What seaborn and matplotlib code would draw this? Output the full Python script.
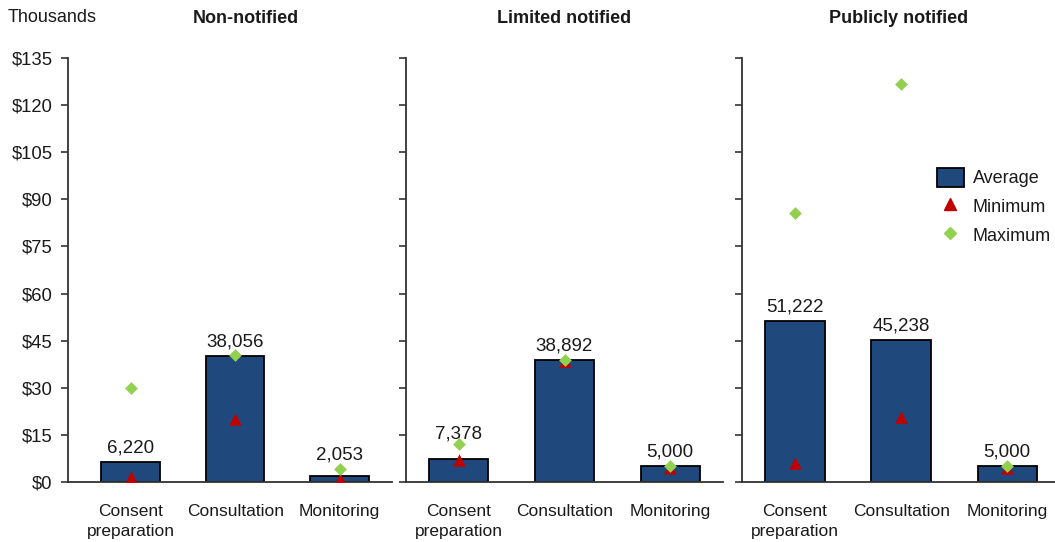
import numpy as np
import pandas as pd
import matplotlib
matplotlib.use("Agg")
import matplotlib.pyplot as plt
from matplotlib.patches import Patch
from matplotlib.lines import Line2D
import seaborn as sns

# ---------------- data (thousands of $) ----------------
categories = ["Consent\npreparation", "Consultation", "Monitoring"]
panel_titles = ["Non-notified", "Limited notified", "Publicly notified"]

avg_non = [6.22, 40.0, 2.05]
min_non = [1.5, 20.0, 1.0]
max_non = [30.0, 40.3, 4.1]
lbl_non = ["6,220", "38,056", "2,053"]

avg_lim = [7.378, 38.892, 5.0]
min_lim = [7.0, 38.5, 4.6]
max_lim = [12.0, 38.9, 5.2]
lbl_lim = ["7,378", "38,892", "5,000"]

avg_pub = [51.222, 45.238, 5.0]
min_pub = [6.0, 20.8, 4.6]
max_pub = [85.7, 126.8, 5.2]
lbl_pub = ["51,222", "45,238", "5,000"]

y_ticks = [0, 15, 30, 45, 60, 75, 90, 105, 120, 135]
y_ticklabels = ["$0", "$15", "$30", "$45", "$60", "$75", "$90", "$105", "$120", "$135"]

# label offsets above bar tops (points) - layout only
label_offsets = [[4, 4, 8.5], [12, 4, 4], [4, 4, 4]]

# ---------------- style ----------------
sns.set_theme(style="white")
plt.rcParams["font.family"] = ["Liberation Sans", "DejaVu Sans"]
TXT = "#1a1a1a"
NAVY = "#1F497D"
RED = "#C00000"
GREEN = "#92D050"
AXC = "#333333"

fig = plt.figure(figsize=(10.55, 5.42), dpi=100)
W, H = 1055, 542
bottom = (H - 482) / H
height = 424 / H
rects = [(68, 324), (406, 317), (742, 313)]
xlims = [(-0.6, 2.5), (-0.5, 2.5), (-0.5, 2.45)]

data = [
    (avg_non, min_non, max_non, lbl_non),
    (avg_lim, min_lim, max_lim, lbl_lim),
    (avg_pub, min_pub, max_pub, lbl_pub),
]

axes = []
for i, ((l, w), (avg, mn, mx, lbls)) in enumerate(zip(rects, data)):
    ax = fig.add_axes([l / W, bottom, w / W, height])
    axes.append(ax)
    df = pd.DataFrame({"cat": categories, "avg": avg, "min": mn, "max": mx})
    sns.barplot(data=df, x="cat", y="avg", ax=ax, color=NAVY, saturation=1,
                width=0.56, edgecolor="black", linewidth=1.3)
    sns.stripplot(data=df, x="cat", y="min", ax=ax, jitter=False, marker="^",
                  color=RED, size=9, linewidth=0, zorder=3)
    sns.stripplot(data=df, x="cat", y="max", ax=ax, jitter=False, marker="D",
                  color=GREEN, size=6.5, linewidth=0, zorder=4)
    for bar, txt, off in zip(ax.patches, lbls, label_offsets[i]):
        ax.annotate(txt, (bar.get_x() + bar.get_width() / 2, bar.get_height()),
                    xytext=(0, off), textcoords="offset points", ha="center",
                    va="bottom", fontsize=13.5, color=TXT)
    ax.set_xlim(*xlims[i])
    ax.set_ylim(0, 135)
    ax.set_yticks(y_ticks)
    if i == 0:
        ax.set_yticklabels(y_ticklabels)
    else:
        ax.set_yticklabels([])
    ax.set_xlabel("")
    ax.set_ylabel("")
    ax.set_xticks(range(len(categories)))
    ax.set_xticklabels(categories, fontsize=12.5, color=TXT, linespacing=1.4)
    ax.tick_params(axis="x", length=0, pad=16)
    ax.tick_params(axis="y", direction="out", length=5, width=1.2, color=AXC,
                   labelsize=13.3, labelcolor=TXT, pad=6, left=True)
    for s in ["top", "right"]:
        ax.spines[s].set_visible(False)
    for s in ["left", "bottom"]:
        ax.spines[s].set_color(AXC)
        ax.spines[s].set_linewidth(1.3)
    ax.set_title(panel_titles[i], fontsize=13, fontweight="bold", color=TXT,
                 pad=25, x=0.55 if i == 0 else 0.5)

fig.text(8 / W, 1 - 18 / H, "Thousands", fontsize=13, color=TXT, va="center", ha="left")

handles = [
    Patch(facecolor=NAVY, edgecolor="black", linewidth=1.3),
    Line2D([], [], marker="^", color=RED, linestyle="none", markersize=9),
    Line2D([], [], marker="D", color=GREEN, linestyle="none", markersize=6.5),
]
axes[2].legend(handles, ["Average", "Minimum", "Maximum"], loc="upper left",
               bbox_to_anchor=(0.57, 0.78), frameon=False, fontsize=13,
               handlelength=1.5, handleheight=1.3, labelspacing=0.5,
               handletextpad=0.5, labelcolor=TXT)

fig.savefig("out.png", dpi=100)
